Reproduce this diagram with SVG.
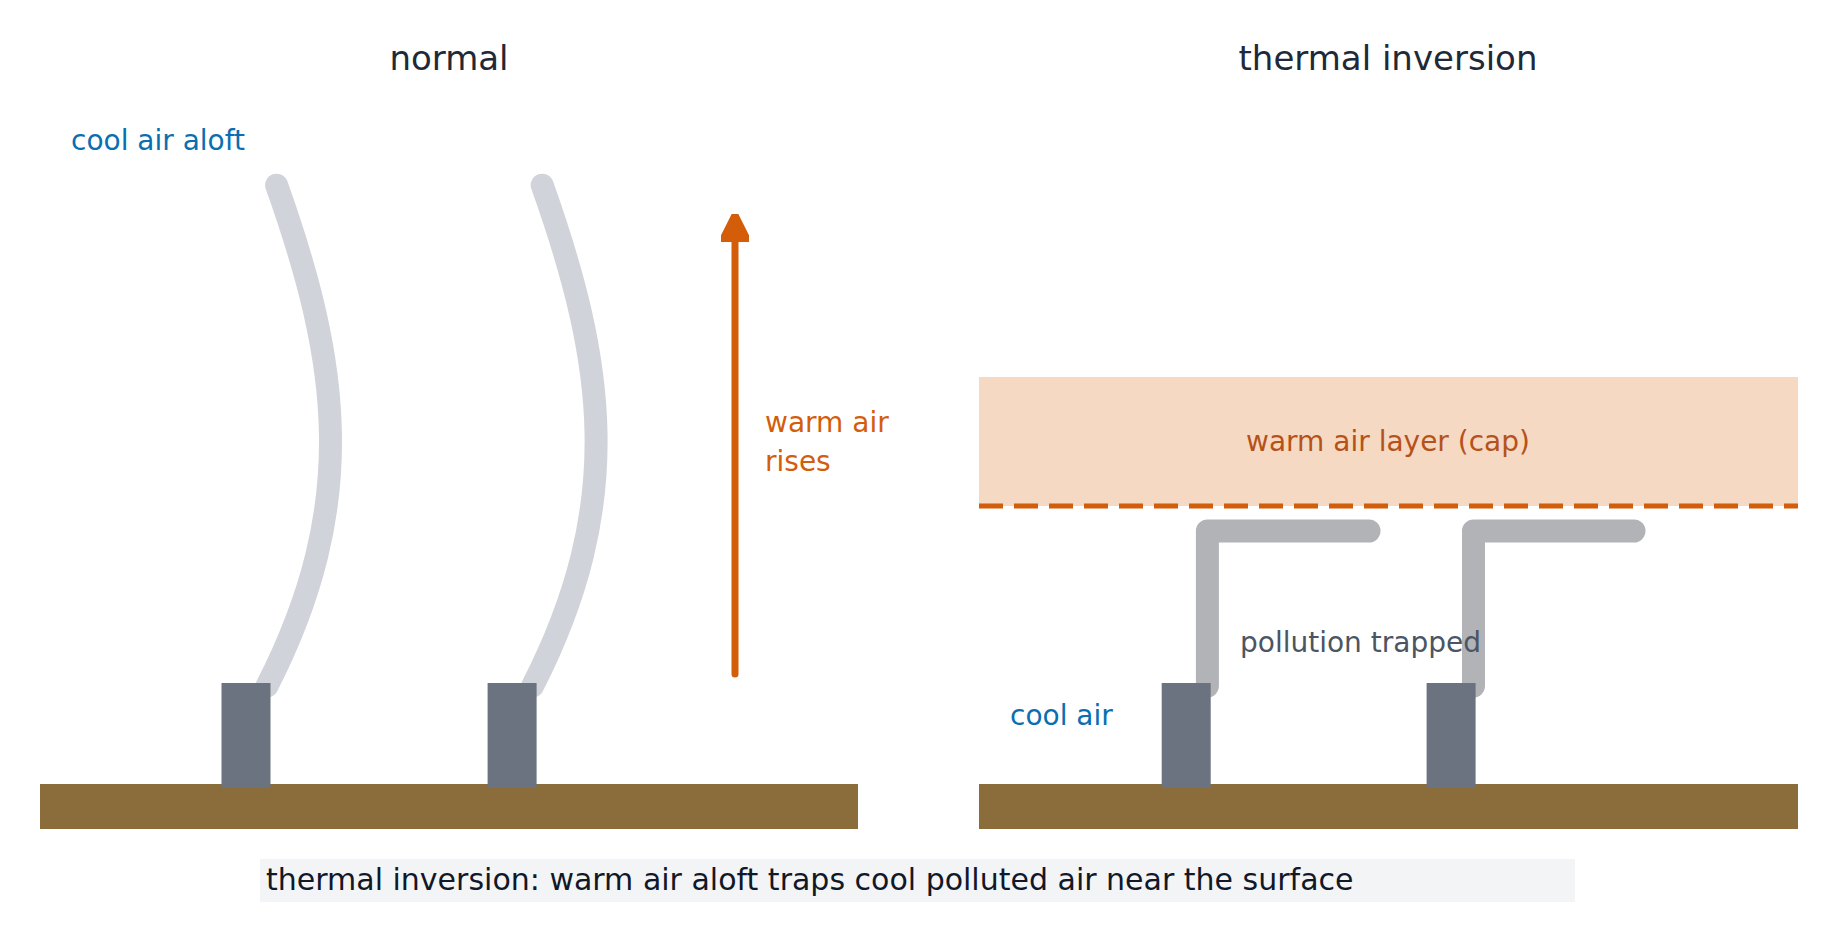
<svg xmlns="http://www.w3.org/2000/svg" width="1838" height="940" viewBox="0 0 1838 940">
<style>
text{font-family:"DejaVu Sans",sans-serif}
.t{font-size:34px;fill:#1f2937;text-anchor:middle}
.l{font-size:28px}
.ground{fill:#8b6d3c}
.chim{fill:#6b7280}
.pn{fill:none;stroke:#d0d3d9;stroke-width:23;stroke-linecap:round}
.pi{fill:none;stroke:#b1b3b7;stroke-width:23;stroke-linecap:round;stroke-linejoin:round}
</style>
<defs><marker id="ah" markerWidth="6" markerHeight="6" refX="3" refY="3" orient="auto" markerUnits="userSpaceOnUse" viewBox="0 0 6 6"><path d="M0,6 L3,0 L6,6 Z" fill="#d45d0a"/></marker>
<marker id="a" viewBox="0 0 10 10" refX="2" refY="5" markerWidth="4" markerHeight="4" orient="auto"><path d="M0,0 L10,5 L0,10 Z" fill="#d45d0a" stroke="#d45d0a" stroke-width="2" stroke-linejoin="round"/></marker></defs>
<rect x="0" y="0" width="1838" height="940" fill="#fff"/>
<text class="t" x="449" y="70">normal</text>
<text class="t" x="1388" y="70">thermal inversion</text>
<g id="left-ground"><rect class="ground" x="40" y="784" width="818" height="45"/></g>
<g id="right-ground"><rect class="ground" x="979" y="784" width="819" height="45"/></g>
<g id="warm-layer"><rect x="979" y="377" width="819" height="129" fill="#f6d9c2"/>
<line x1="979" y1="506" x2="1798" y2="506" stroke="#d45d0a" stroke-width="5" stroke-dasharray="24 11"/>
<text class="l" x="1388" y="451" fill="#b5521b" text-anchor="middle">warm air layer (cap)</text></g>
<g id="connectors">
<path class="pn" d="M276.6 185.2 C340 363, 360 504, 267 686"/>
<path class="pn" d="M542.2 185.2 C605.6 363, 625.6 504, 532.6 686"/>
<path class="pi" d="M1207.4 686 V531 H1369"/>
<path class="pi" d="M1473.5 686 V531 H1634"/>
<line x1="735" y1="674" x2="735" y2="236" stroke="#d45d0a" stroke-width="7" stroke-linecap="round" marker-end="url(#a)"/>
</g>
<g id="chimney1"><rect class="chim" x="221.5" y="683" width="49" height="105"/></g>
<g id="chimney2"><rect class="chim" x="487.6" y="683" width="49" height="105"/></g>
<g id="chimney3"><rect class="chim" x="1161.7" y="683" width="49" height="105"/></g>
<g id="chimney4"><rect class="chim" x="1426.6" y="683" width="49" height="105"/></g>
<text class="l" x="71" y="150" fill="#0a6fb0">cool air aloft</text>
<text class="l" x="765" y="432" fill="#d45d0a">warm air</text>
<text class="l" x="765" y="471" fill="#d45d0a">rises</text>
<text class="l" x="1240" y="652" fill="#4b5563">pollution trapped</text>
<text class="l" x="1010" y="725" fill="#0a6fb0">cool air</text>
<g id="caption"><rect x="260" y="859" width="1315" height="43" fill="#f3f4f6"/>
<text x="266" y="890" font-size="30" fill="#111827">thermal inversion: warm air aloft traps cool polluted air near the surface</text></g>
</svg>
